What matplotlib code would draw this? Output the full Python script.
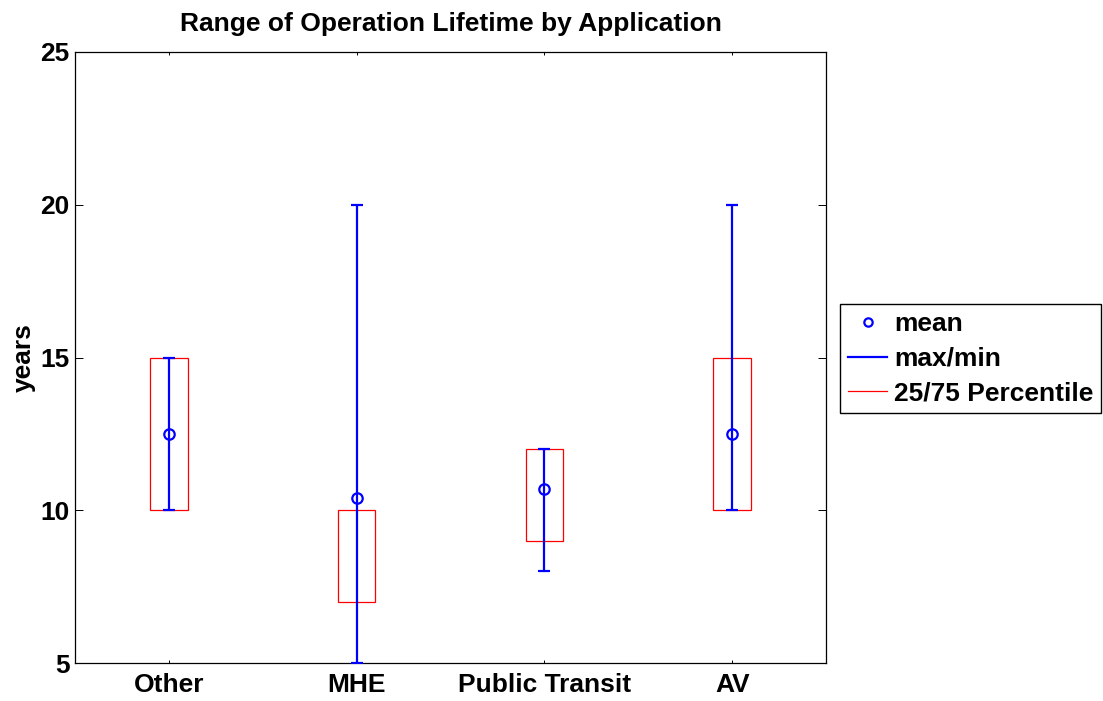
import matplotlib
matplotlib.use("Agg")
import matplotlib.pyplot as plt
import numpy as np
from matplotlib.patches import Rectangle
from matplotlib.lines import Line2D

plt.rcParams['font.family'] = ['Liberation Sans', 'DejaVu Sans']
plt.rcParams['font.weight'] = 'bold'

categories = ["Other", "MHE", "Public Transit", "AV"]
mins = [10, 5, 8, 10]
maxs = [15, 20, 12, 20]
means = [12.5, 10.4, 10.7, 12.5]
p25 = [10, 7, 9, 10]
p75 = [15, 10, 12, 15]

fig = plt.figure(figsize=(11.03, 7.01), dpi=100)
ax = fig.add_axes([0.068, 0.054, 0.681, 0.872])

x = np.arange(1, len(categories) + 1)
bw = 0.2

for xi, lo, hi in zip(x, p25, p75):
    ax.add_patch(Rectangle((xi - bw / 2, lo), bw, hi - lo, fill=False,
                           edgecolor='red', linewidth=0.9, zorder=2))

m = np.array(means)
ax.errorbar(x, m, yerr=[m - np.array(mins), np.array(maxs) - m], fmt='none',
            ecolor='blue', elinewidth=1.6, capsize=4.5, capthick=1.6, zorder=3)
ax.plot(x, means, 'o', markerfacecolor='none', markeredgecolor='blue',
        markeredgewidth=1.6, markersize=7.5, zorder=4)

ax.set_xlim(0.5, 4.5)
ax.set_ylim(5, 25)
ax.set_yticks([5, 10, 15, 20, 25])
ax.set_xticks(x)
ax.set_xticklabels(categories)
ax.tick_params(direction='in', top=True, right=True, labelsize=19, width=0.7)
ax.tick_params(axis='y', length=6, pad=4)
ax.tick_params(axis='x', length=2.5, pad=7)
for lab in ax.get_xticklabels() + ax.get_yticklabels():
    lab.set_fontweight('bold')
for s in ax.spines.values():
    s.set_linewidth(0.9)
ax.set_ylabel("years", fontsize=19, fontweight='bold', labelpad=3)
ax.set_title("Range of Operation Lifetime by Application", fontsize=19,
             fontweight='bold', pad=15)

handles = [
    Line2D([], [], linestyle='none', marker='o', markerfacecolor='none',
           markeredgecolor='blue', markeredgewidth=1.6, markersize=6),
    Line2D([], [], color='blue', linewidth=1.6),
    Line2D([], [], color='red', linewidth=0.9),
]
leg = fig.legend(handles, ["mean", "max/min", "25/75 Percentile"],
                 loc='center left', bbox_to_anchor=(0.7615, 0.488),
                 fancybox=False, edgecolor='black', framealpha=1,
                 prop={'size': 19, 'weight': 'bold'}, handlelength=1.5,
                 handletextpad=0.25, borderpad=0.3, labelspacing=0.4,
                 borderaxespad=0)
leg.get_frame().set_linewidth(1.0)

fig.savefig("out.png", dpi=100)
